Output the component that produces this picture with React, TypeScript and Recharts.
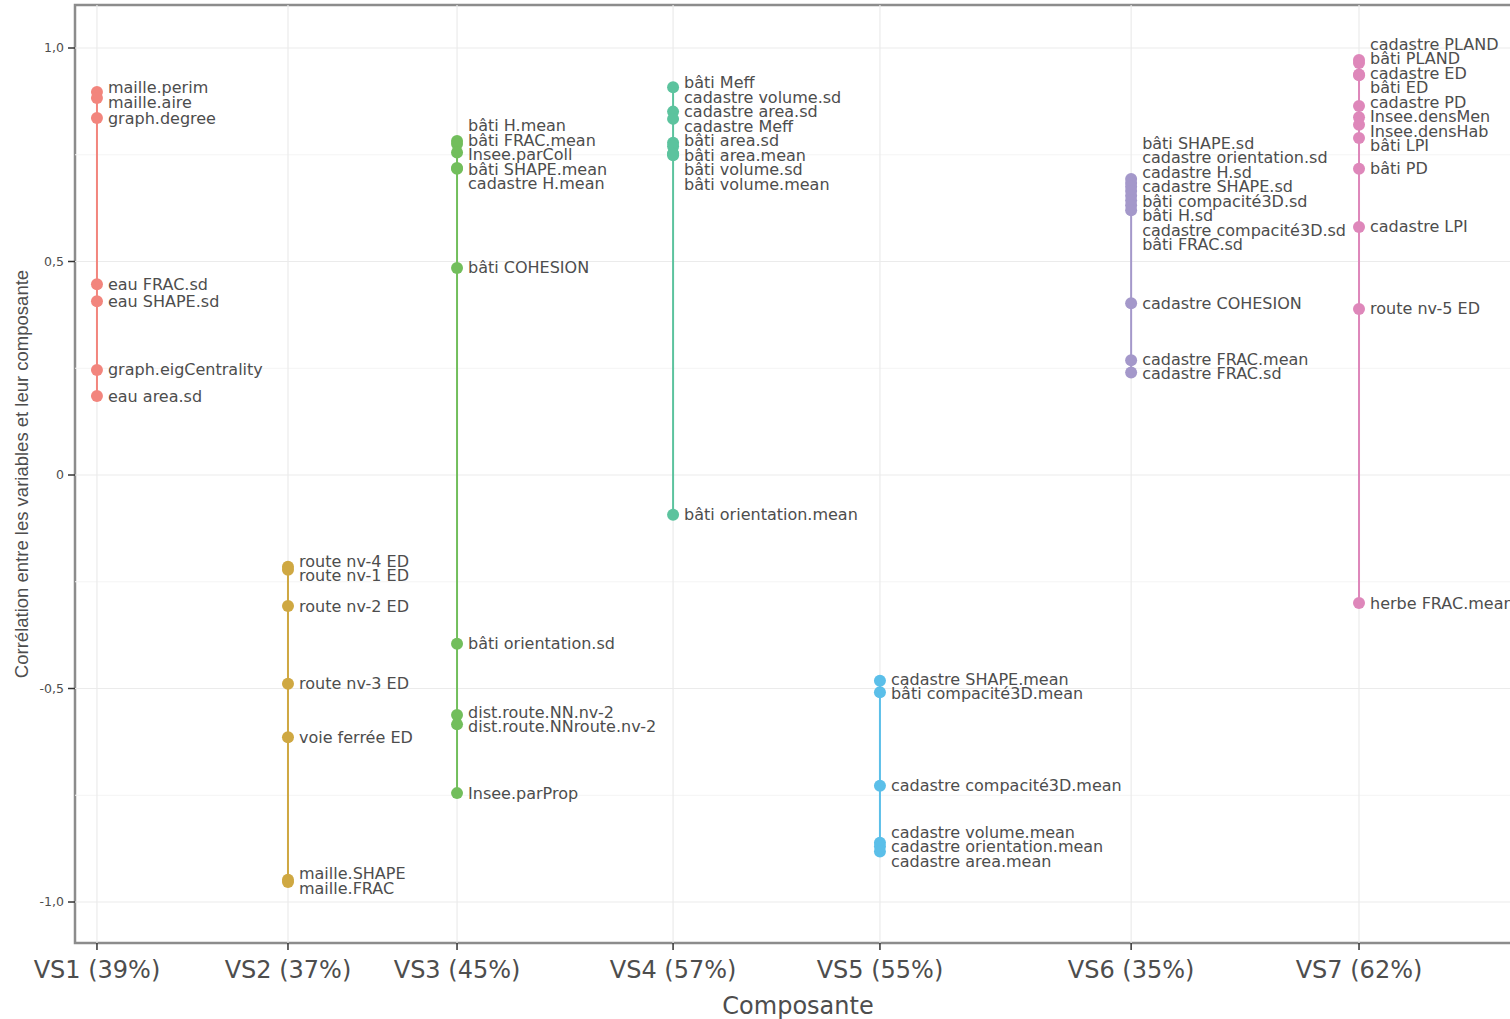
import { ComposedChart, Scatter, XAxis, YAxis, ReferenceLine, ReferenceArea } from "recharts";

// component positions on the x axis (not evenly spaced in the original)
const compX = [1, 2, 2.885, 4.016, 5.099, 6.414, 7.607];
const compLabels = ["VS1 (39%)", "VS2 (37%)", "VS3 (45%)", "VS4 (57%)", "VS5 (55%)", "VS6 (35%)", "VS7 (62%)"];
const compColors = ["#F2857D", "#CFA842", "#72BE5C", "#5CC39E", "#5BBFE9", "#A498CA", "#DE87BA"];

const vs1Vars = ["maille.perim", "maille.aire", "graph.degree", "eau FRAC.sd", "eau SHAPE.sd", "graph.eigCentrality", "eau area.sd"];
const vs1Vals = [0.897, 0.883, 0.836, 0.447, 0.407, 0.246, 0.185];

const vs2Vars = ["route nv-4 ED", "route nv-1 ED", "route nv-2 ED", "route nv-3 ED", "voie ferrée ED", "maille.SHAPE", "maille.FRAC"];
const vs2Vals = [-0.215, -0.222, -0.307, -0.489, -0.614, -0.948, -0.953];

const vs3Vars = ["bâti H.mean", "bâti FRAC.mean", "Insee.parColl", "bâti SHAPE.mean", "cadastre H.mean", "bâti COHESION", "bâti orientation.sd", "dist.route.NN.nv-2", "dist.route.NNroute.nv-2", "Insee.parProp"];
const vs3Vals = [0.782, 0.775, 0.755, 0.719, 0.717, 0.485, -0.395, -0.562, -0.584, -0.745];

const vs4Vars = ["bâti Meff", "cadastre volume.sd", "cadastre area.sd", "cadastre Meff", "bâti area.sd", "bâti area.mean", "bâti volume.sd", "bâti volume.mean", "bâti orientation.mean"];
const vs4Vals = [0.908, 0.851, 0.834, 0.778, 0.770, 0.753, 0.752, 0.749, -0.093];

const vs5Vars = ["cadastre SHAPE.mean", "bâti compacité3D.mean", "cadastre compacité3D.mean", "cadastre volume.mean", "cadastre orientation.mean", "cadastre area.mean"];
const vs5Vals = [-0.482, -0.509, -0.728, -0.861, -0.870, -0.882];

const vs6Vars = ["bâti SHAPE.sd", "cadastre orientation.sd", "cadastre H.sd", "cadastre SHAPE.sd", "bâti compacité3D.sd", "bâti H.sd", "cadastre compacité3D.sd", "bâti FRAC.sd", "cadastre COHESION", "cadastre FRAC.mean", "cadastre FRAC.sd"];
const vs6Vals = [0.693, 0.684, 0.675, 0.665, 0.654, 0.643, 0.632, 0.620, 0.402, 0.269, 0.240];

const vs7Vars = ["cadastre PLAND", "bâti PLAND", "cadastre ED", "bâti ED", "cadastre PD", "Insee.densMen", "Insee.densHab", "bâti LPI", "bâti PD", "cadastre LPI", "route nv-5 ED", "herbe FRAC.mean"];
const vs7Vals = [0.972, 0.965, 0.938, 0.936, 0.864, 0.838, 0.820, 0.789, 0.717, 0.581, 0.389, -0.300];

const yTicks = [-1, -0.5, 0, 0.5, 1];
const yMinor = [-0.75, -0.25, 0.25, 0.75];

const X_DOMAIN = [0.885, 8.455];
const Y_DOMAIN = [-1.096, 1.1007];
const LABEL_GAP = 0.034; // ~14.5px between stacked labels

const allVars = [vs1Vars, vs2Vars, vs3Vars, vs4Vars, vs5Vars, vs6Vars, vs7Vars];
const allVals = [vs1Vals, vs2Vals, vs3Vals, vs4Vals, vs5Vals, vs6Vals, vs7Vals];

// simple 1D label repel: merge overlapping labels into evenly spaced stacks
function repel(vals: number[], gap: number) {
  let clusters = vals.map((v, i) => ({ idx: [i], center: v }));
  let changed = true;
  while (changed) {
    changed = false;
    for (let i = 0; i < clusters.length - 1; i++) {
      const a = clusters[i];
      const b = clusters[i + 1];
      const aBottom = a.center - ((a.idx.length - 1) * gap) / 2;
      const bTop = b.center + ((b.idx.length - 1) * gap) / 2;
      if (aBottom - bTop < gap - 1e-9) {
        const idx = [...a.idx, ...b.idx];
        const center = idx.reduce((s, k) => s + vals[k], 0) / idx.length;
        clusters.splice(i, 2, { idx, center });
        changed = true;
        break;
      }
    }
  }
  const out: number[] = new Array(vals.length);
  clusters.forEach((c) => {
    const n = c.idx.length;
    c.idx.forEach((k, j) => {
      out[k] = c.center + ((n - 1) / 2 - j) * gap;
    });
  });
  return out;
}

const groups = allVars.map((vars, g) => {
  const rows = vars
    .map((name, i) => ({ name, x: compX[g], y: allVals[g][i] }))
    .sort((a, b) => b.y - a.y);
  const labelY = repel(rows.map((r) => r.y), LABEL_GAP);
  return {
    color: compColors[g],
    points: rows,
    labels: rows.map((r, i) => ({ name: r.name, x: r.x, y: labelY[i] })),
  };
});

const fmtY = (v: number) => (v === 0 ? "0" : v.toFixed(1).replace(".", ","));
const fmtX = (v: number) => compLabels[compX.indexOf(v)] ?? "";

const textCol = "#4d4d4d";

export default function App() {
  return (
    <div style={{ position: "fixed", left: 0, top: 0, width: 1510, height: 1019, overflow: "hidden", background: "#fff" }}>
      <ComposedChart width={1530} height={1019} margin={{ top: 5, right: 9, bottom: 0, left: 0 }}>
        <XAxis
          type="number"
          dataKey="x"
          domain={X_DOMAIN}
          allowDataOverflow
          ticks={compX}
          interval={0}
          tickFormatter={fmtX}
          height={76}
          axisLine={false}
          tickLine={{ stroke: "#333", strokeWidth: 1.5 }}
          tickSize={7}
          tickMargin={11}
          tick={{ fontSize: 24, fill: textCol, fontFamily: "DejaVu Sans" }}
          label={{
            content: (p: any) => (
              <text
                x={p.viewBox.x + p.viewBox.width / 2}
                y={p.viewBox.y + 71}
                textAnchor="middle"
                fontSize={24}
                fill={textCol}
                fontFamily="DejaVu Sans"
              >
                Composante
              </text>
            ),
          }}
        />
        <YAxis
          type="number"
          dataKey="y"
          domain={Y_DOMAIN}
          allowDataOverflow
          ticks={yTicks}
          interval={0}
          tickFormatter={fmtY}
          width={75}
          axisLine={false}
          tickLine={{ stroke: "#333", strokeWidth: 1.5 }}
          tickSize={7}
          tickMargin={4}
          tick={{ fontSize: 12.5, fill: textCol, fontFamily: "DejaVu Sans" }}
          label={{
            content: (p: any) => {
              const cx = 27.5;
              const cy = p.viewBox.y + p.viewBox.height / 2;
              return (
                <text
                  x={cx}
                  y={cy}
                  textAnchor="middle"
                  transform={`rotate(-90, ${cx}, ${cy})`}
                  fontSize={18.5}
                  fill={textCol}
                  fontFamily="Liberation Sans"
                >
                  Corrélation entre les variables et leur composante
                </text>
              );
            },
          }}
        />

        {yMinor.map((v) => (
          <ReferenceLine key={"mn" + v} y={v} stroke="#f4f4f4" strokeWidth={1} />
        ))}
        {yTicks.map((v) => (
          <ReferenceLine key={"mj" + v} y={v} stroke="#ebebeb" strokeWidth={1.2} />
        ))}
        {compX.map((v) => (
          <ReferenceLine key={"vx" + v} x={v} stroke="#ebebeb" strokeWidth={1.2} />
        ))}
        <ReferenceArea
          x1={X_DOMAIN[0]}
          x2={X_DOMAIN[1]}
          y1={Y_DOMAIN[0]}
          y2={Y_DOMAIN[1]}
          fill="none"
          fillOpacity={0}
          stroke="#8c8c8c"
          strokeWidth={2.5}
        />

        {groups.map((g, i) => (
          <Scatter
            key={"pts" + i}
            data={g.points}
            fill={g.color}
            line={{ stroke: g.color, strokeWidth: 2 }}
            isAnimationActive={false}
            shape={(p: any) => <circle cx={p.cx} cy={p.cy} r={6} fill={g.color} />}
          />
        ))}
        {groups.map((g, i) => (
          <Scatter
            key={"lbl" + i}
            data={g.labels}
            isAnimationActive={false}
            shape={(p: any) => (
              <text
                x={p.cx + 11}
                y={p.cy}
                dominantBaseline="central"
                fontSize={16}
                fill={textCol}
                fontFamily="DejaVu Sans"
              >
                {p.payload?.name}
              </text>
            )}
          />
        ))}
      </ComposedChart>
    </div>
  );
}
